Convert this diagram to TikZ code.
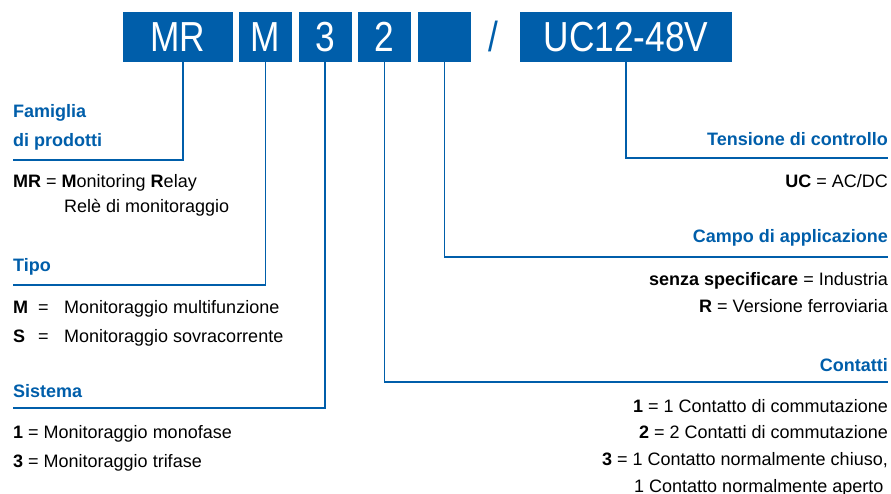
\documentclass[tikz,border=0pt]{standalone}
\usepackage{fontspec}
\setmainfont{Liberation Sans}
\newfontfamily\codefont{Liberation Sans}[FakeStretch=0.84]
\usepackage{xcolor}
\definecolor{relayblue}{RGB}{0,94,170}
\tikzset{codebox/.style={fill=relayblue, text=white, minimum width=53pt,
   minimum height=50pt, inner sep=0pt, font=\codefont\fontsize{42}{42}\selectfont},
 head/.style={text=relayblue, inner sep=0pt, font=\bfseries\fontsize{18}{18}\selectfont},
 body/.style={inner sep=0pt, font=\fontsize{18}{18}\selectfont},
 leader/.style={draw=relayblue, line width=1.4pt},
 }

\begin{document}
\begin{tikzpicture}[x=1pt, y=1pt]
        \useasboundingbox (0,0) rectangle (891,-494);
        % code boxes
        \node[codebox, minimum width=110pt] (mr) at (178,-37) {MR};
        \foreach \t/\n/\x in {M/tipo/265.5, 3/sistema/325, 2/contatti/384.5} {
            \node[codebox] (\n) at (\x,-37) {\t};
        }
        \node[codebox] (campo) at (444.5,-37) {};
        \node[text=relayblue, inner sep=0pt, font=\codefont\fontsize{42}{42}\selectfont] (slash) at (493,-36) {/};
        \node[codebox, minimum width=212pt] (uc) at (626,-37) {UC12-48V};

        % left side
        \node[head, anchor=base west] (famA) at (13,-118) {Famiglia};
        \node[head, anchor=base west] (famB) at (13,-147) {di prodotti};
        \coordinate (famend) at (13,-160);
        \draw[leader] ([xshift=5pt]mr.south) |- (famend);
        \node[body, anchor=base west] (mrA) at (13,-188) {\textbf{MR} = \textbf{M}onitoring \textbf{R}elay};
        \node[body, anchor=base west] (mrB) at (64,-213) {Relè di monitoraggio};

        \node[head, anchor=base west] (tipohead) at (13,-272) {Tipo};
        \coordinate (tipoend) at (13,-285);
        \draw[leader] (tipo.south) |- (tipoend);
        \node[body, anchor=base west] (tipoA) at (13,-313) {\makebox[25pt][l]{\textbf{M}}\makebox[26pt][l]{=}Monitoraggio multifunzione};
        \node[body, anchor=base west] (tipoB) at (13,-342) {\makebox[25pt][l]{\textbf{S}}\makebox[26pt][l]{=}Monitoraggio sovracorrente};

        \node[head, anchor=base west] (sishead) at (13,-397) {Sistema};
        \coordinate (sisend) at (13,-408);
        \draw[leader] (sistema.south) |- (sisend);
        \node[body, anchor=base west] (sisA) at (13,-438) {\textbf{1} = Monitoraggio monofase};
        \node[body, anchor=base west] (sisB) at (13,-467) {\textbf{3} = Monitoraggio trifase};

        % right side
        \node[head, anchor=base east] (tenshead) at (888,-146) {Tensione di controllo};
        \coordinate (tensend) at (888,-158);
        \draw[leader] (uc.south) |- (tensend);
        \node[body, anchor=base east] (tensA) at (888,-188) {\textbf{UC} = AC/DC};

        \node[head, anchor=base east] (campohead) at (888,-243) {Campo di applicazione};
        \coordinate (campoend) at (888,-257);
        \draw[leader] (campo.south) |- (campoend);
        \node[body, anchor=base east] (campoA) at (888,-286) {\textbf{senza specificare} = Industria};
        \node[body, anchor=base east] (campoB) at (888,-312) {\textbf{R} = Versione ferroviaria};

        \node[head, anchor=base east] (conthead) at (888,-371) {Contatti};
        \coordinate (contend) at (888,-382);
        \draw[leader] (contatti.south) |- (contend);
        \node[body, anchor=base east] (contA) at (888,-412) {\textbf{1} = 1 Contatto di commutazione};
        \node[body, anchor=base east] (contB) at (888,-438) {\textbf{2} = 2 Contatti di commutazione};
        \node[body, anchor=base east] (contC) at (888,-465) {\textbf{3} = 1 Contatto normalmente chiuso,};
        \node[body, anchor=base west] (contD) at (634,-492) {1 Contatto normalmente aperto};
    \end{tikzpicture}
\end{document}
